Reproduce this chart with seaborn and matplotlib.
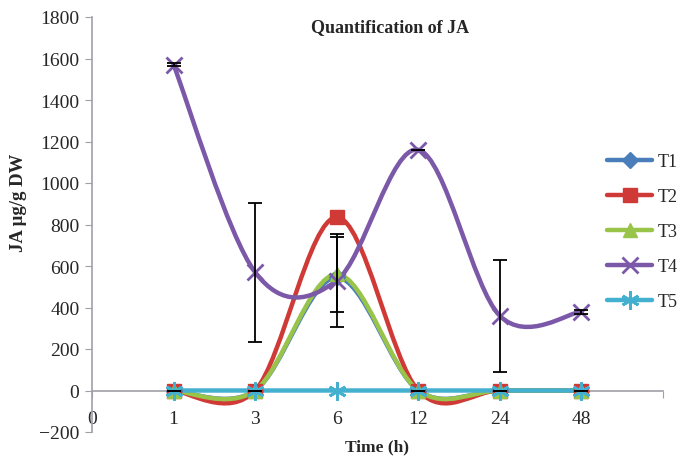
import numpy as np
import seaborn as sns
import matplotlib.pyplot as plt
from matplotlib.path import Path
from matplotlib.patches import PathPatch
from matplotlib.lines import Line2D

# data (x = category index of time label)
time_labels = ['0', '1', '3', '6', '12', '24', '48']
x_pos = [1, 2, 3, 4, 5, 6]
t1 = [0, 0, 545, 0, 0, 0]
t2 = [0, 0, 835, 0, 0, 0]
t3 = [0, 0, 560, 0, 0, 0]
t4 = [1570, 570, 530, 1160, 360, 380]
t5 = [0, 0, 0, 0, 0, 0]
t3_err = [0, 0, 180, 0, 0, 0]
t4_err = [6, 335, 225, 0, 270, 10]

series = [
    ('T1', t1, '#4a7ebb', 'D', 8),
    ('T2', t2, '#d03a36', 's', 10),
    ('T3', t3, '#98c44a', '^', 10),
    ('T4', t4, '#7b58a8', 'x', 12),
    ('T5', t5, '#44b0d0', (6, 2, 0), 13),
]

sns.set_style('white')
plt.rcParams['font.family'] = ['Liberation Serif', 'DejaVu Serif']

fig = plt.figure(figsize=(6.81, 4.60), dpi=100)
ax = fig.add_axes([92 / 681, 1 - 433 / 460, (663 - 92) / 681, (433 - 18) / 460])


def smooth_path(xs, ys):
    # Excel style smoothed line: Catmull-Rom segments as cubic Bezier
    pts = np.column_stack([xs, ys]).astype(float)
    ext = np.vstack([pts[0], pts, pts[-1]])
    verts = [pts[0]]
    codes = [Path.MOVETO]
    for i in range(1, len(ext) - 2):
        p0, p1, p2, p3 = ext[i - 1], ext[i], ext[i + 1], ext[i + 2]
        verts += [p1 + (p2 - p0) / 6, p2 - (p3 - p1) / 6, p2]
        codes += [Path.CURVE4] * 3
    return Path(verts, codes)


handles = []
for name, vals, col, mk, ms in series:
    mew = 2 if mk in ('x', (6, 2, 0)) else 1
    ax.add_patch(PathPatch(smooth_path(x_pos, vals), fill=False, edgecolor=col,
                           lw=3.2, zorder=3, capstyle='round'))
    ax.plot(x_pos, vals, ls='none', marker=mk, ms=ms, color=col,
            mec=col, mew=mew, zorder=4)
    handles.append(Line2D([0], [0], color=col, lw=3.2, marker=mk, ms=ms, mew=mew))

ax.errorbar(x_pos, t3, yerr=t3_err, fmt='none', ecolor='black', elinewidth=1.3,
            capsize=5, capthick=1.3, zorder=5)
ax.errorbar(x_pos, t4, yerr=t4_err, fmt='none', ecolor='black', elinewidth=1.3,
            capsize=5, capthick=1.3, zorder=5)

ax.set_xlim(0, 7)
ax.set_ylim(-200, 1800)
ax.set_yticks(range(-200, 1801, 200))
ax.set_xticks(range(0, 8))
ax.set_xticklabels(time_labels + [''])
ax.tick_params(axis='y', labelsize=14, length=5, color='#a0a0a8', direction='out',
               left=True, pad=4)
ax.tick_params(axis='x', labelsize=14, length=5, color='#a0a0a8', direction='out',
               bottom=True, pad=9)

for s in ['top', 'right']:
    ax.spines[s].set_visible(False)
ax.spines['bottom'].set_position(('data', 0))
for s in ['left', 'bottom']:
    ax.spines[s].set_color('#a0a0a8')
    ax.spines[s].set_linewidth(1.2)

fig.text(19 / 681, 1 - 203 / 460, 'JA μg/g DW', rotation=90, ha='center', va='center',
         fontsize=13.5, fontweight='bold')
fig.text(377 / 681, 1 - 447 / 460, 'Time (h)', ha='center', va='center',
         fontsize=12.5, fontweight='bold')
fig.text(390 / 681, 1 - 28 / 460, 'Quantification of JA', ha='center', va='center',
         fontsize=13, fontweight='bold')

fig.legend(handles, [s[0] for s in series], loc='upper left',
           bbox_to_anchor=(607 / 681, 1 - 154 / 460), frameon=False, fontsize=13,
           handlelength=2.5, handletextpad=0.3, labelspacing=1.0, borderaxespad=0,
           borderpad=0)

fig.savefig('out.png', dpi=100)
